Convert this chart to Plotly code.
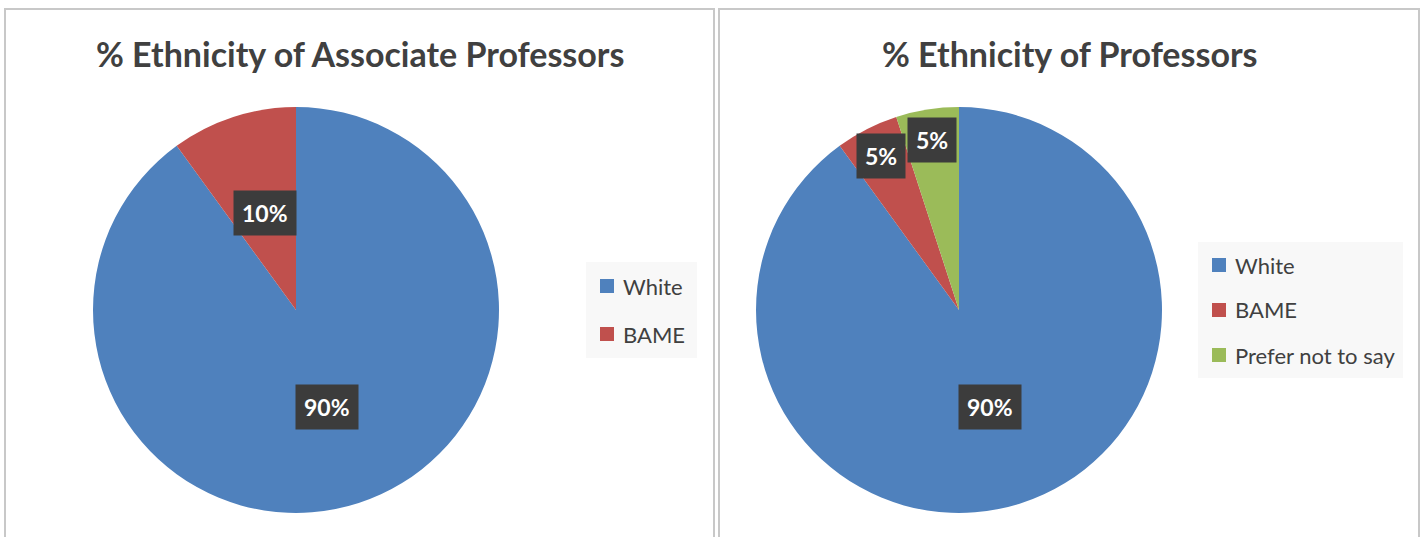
import math
import plotly.graph_objects as go

W, H = 1427, 537

# ---- data ----
titles = ["% Ethnicity of Associate Professors", "% Ethnicity of Professors"]
labels_assoc = ["White", "BAME"]
values_assoc = [90, 10]
labels_prof = ["White", "BAME", "Prefer not to say"]
values_prof = [90, 5, 5]

colors = {"White": "#4f81bd", "BAME": "#c0504d", "Prefer not to say": "#9bbb59"}
FONT = "Lato"
TXT = "#404040"

def px(x):
    return x / W

def py(y):
    return 1 - y / H

# layout geometry (pixels)
charts = [
    dict(labels=labels_assoc, values=values_assoc, title=titles[0],
         cx=296, cy=310, r=203, panel=(5, 9, 714, 560), title_x=360,
         leg=dict(x0=586, y0=262, x1=697, y1=358, first=286, gap=48)),
    dict(labels=labels_prof, values=values_prof, title=titles[1],
         cx=959, cy=310, r=203, panel=(719, 9, 1419, 560), title_x=1070,
         leg=dict(x0=1198, y0=242, x1=1403, y1=378, first=265, gap=45)),
]

fig = go.Figure()
shapes = []
annotations = []

for c in charts:
    cx, cy, r = c["cx"], c["cy"], c["r"]
    fig.add_trace(go.Pie(
        labels=c["labels"], values=c["values"], sort=False,
        direction="clockwise", rotation=0, textinfo="none",
        hoverinfo="label+percent", showlegend=False,
        marker=dict(colors=[colors[l] for l in c["labels"]],
                    line=dict(width=0)),
        domain=dict(x=[px(cx - r), px(cx + r)], y=[py(cy + r), py(cy - r)]),
    ))
    # panel border
    x0, y0, x1, y1 = c["panel"]
    shapes.append(dict(type="rect", xref="paper", yref="paper",
                       x0=px(x0), x1=px(x1), y0=py(y1), y1=py(y0),
                       line=dict(color="#c8c8c8", width=2), layer="below"))
    # title
    annotations.append(dict(text="<b>" + c["title"] + "</b>", x=px(c["title_x"]), y=py(53),
                            xref="paper", yref="paper", showarrow=False,
                            xanchor="center", yanchor="middle",
                            font=dict(family=FONT, size=34, color=TXT)))
    # data labels
    total = sum(c["values"])
    acc = 0
    for lab, v in zip(c["labels"], c["values"]):
        mid = (acc + v / 2) / total * 2 * math.pi
        acc += v
        frac = v / total
        rr = r * (0.5 if frac >= 0.1 else 0.85)
        lx = cx + rr * math.sin(mid)
        ly = cy - rr * math.cos(mid)
        annotations.append(dict(text="<b>%d%%</b>" % round(frac * 100),
                                x=px(lx), y=py(ly), xref="paper", yref="paper",
                                showarrow=False, xanchor="center", yanchor="middle",
                                bgcolor="#3c3c3c", borderpad=8,
                                font=dict(family=FONT, size=23, color="white")))
    # legend
    lg = c["leg"]
    shapes.append(dict(type="rect", xref="paper", yref="paper",
                       x0=px(lg["x0"]), x1=px(lg["x1"]), y0=py(lg["y1"]), y1=py(lg["y0"]),
                       fillcolor="#f8f8f8", line=dict(width=0), layer="below"))
    for i, lab in enumerate(c["labels"]):
        yy = lg["first"] + i * lg["gap"]
        sx = lg["x0"] + 14
        shapes.append(dict(type="rect", xref="paper", yref="paper",
                           x0=px(sx), x1=px(sx + 14), y0=py(yy + 7), y1=py(yy - 7),
                           fillcolor=colors[lab], line=dict(width=0)))
        annotations.append(dict(text=lab, x=px(sx + 21), y=py(yy), xref="paper", yref="paper",
                                showarrow=False, xanchor="left", yanchor="middle",
                                font=dict(family=FONT, size=22, color=TXT)))

fig.update_layout(width=W, height=H, margin=dict(l=0, r=0, t=0, b=0),
                  paper_bgcolor="white", plot_bgcolor="white",
                  shapes=shapes, annotations=annotations)

fig.write_html("out.html")
